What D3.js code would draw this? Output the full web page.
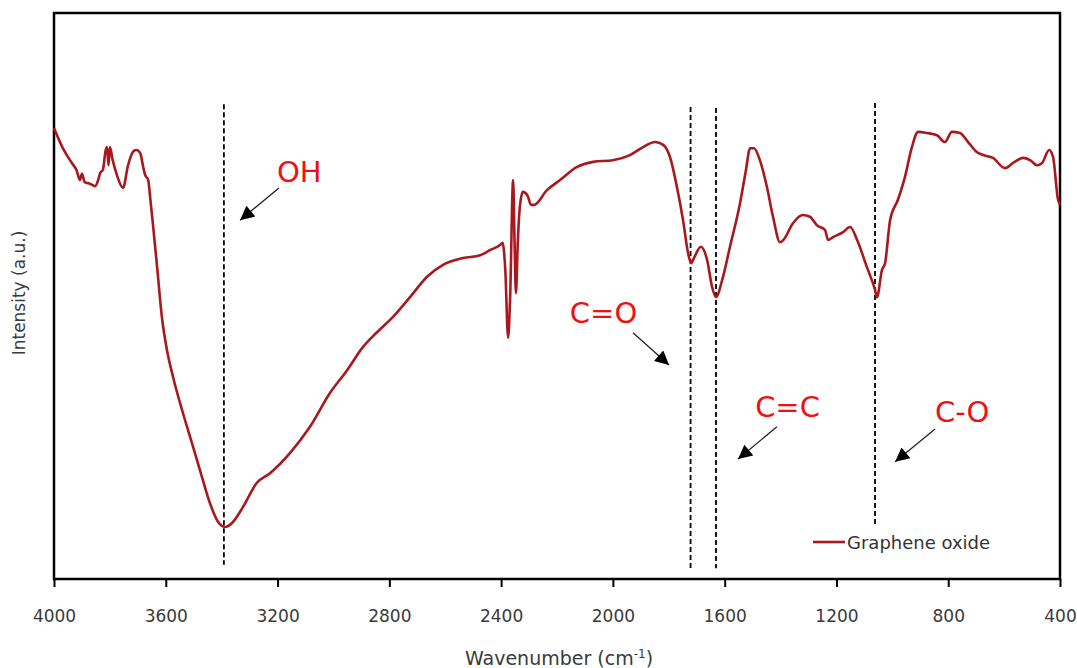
<!DOCTYPE html>
<html>
<head>
<meta charset="utf-8">
<script src="https://cdn.jsdelivr.net/npm/d3@7"></script>
<style>
  body { margin: 0; background: #fff; }
  svg { display: block; }
  text { font-family: "DejaVu Sans", Verdana, sans-serif; }
</style>
</head>
<body>
<svg id="chart" width="1077" height="668"></svg>
<script>
// ---------------------------------------------------------------
// Data (wavenumber, intensity a.u.)

const wavenumber = [
  4000, 3965, 3936, 3920, 3907, 3900, 3890, 3870, 3853, 3840,
  3835, 3825, 3815, 3810, 3805, 3800, 3790, 3775, 3753, 3735,
  3715, 3705, 3692, 3680, 3674, 3663, 3655, 3645, 3631, 3614,
  3596, 3574, 3542, 3513, 3478, 3442, 3413, 3388, 3363, 3324,
  3274, 3227, 3155, 3084, 3012, 2951, 2894, 2844, 2787, 2726,
  2665, 2608, 2536, 2475, 2440, 2404, 2395, 2385, 2375, 2368,
  2357, 2352, 2347, 2340, 2333, 2322, 2305, 2293, 2282, 2236,
  2189, 2128, 2071, 2000, 1939, 1892, 1849, 1820, 1796, 1771,
  1749, 1731, 1720, 1710, 1685, 1663, 1645, 1631, 1609, 1581,
  1545, 1525, 1509, 1495, 1474, 1449, 1427, 1402, 1390, 1355,
  1320, 1295, 1270, 1241, 1230, 1212, 1176, 1151, 1126, 1091,
  1062, 1055, 1037, 1026, 1008, 980, 955, 930, 908, 876,
  840, 812, 787, 758, 729, 697, 675, 640, 597, 568,
  532, 507, 482, 464, 439, 425, 407, 400
];

const intensity = [
  79.7, 75.8, 73.5, 72.3, 70.5, 71.6, 70.1, 69.8, 69.4, 70.8,
  71.7, 72.3, 75.8, 76.3, 73.1, 76.3, 74.0, 71.4, 69.1, 73.1,
  75.6, 75.8, 75.3, 72.6, 71.4, 70.5, 67.0, 62.2, 55.1, 46.3,
  40.5, 35.7, 29.9, 25.1, 19.3, 13.4, 10.1, 9.2, 9.9, 12.7,
  17.0, 18.7, 22.3, 26.9, 32.9, 36.9, 41.0, 43.6, 46.3, 49.8,
  53.4, 55.5, 56.7, 57.2, 58.1, 59.0, 59.4, 54.6, 42.6, 49.3,
  70.5, 59.9, 50.5, 59.9, 65.7, 68.4, 67.7, 66.1, 66.1, 68.7,
  70.5, 72.8, 73.7, 74.0, 74.9, 76.3, 77.2, 76.7, 74.6, 69.3,
  63.4, 57.6, 55.8, 56.7, 58.7, 56.4, 51.6, 49.8, 52.8, 58.7,
  66.4, 71.9, 76.1, 76.1, 74.0, 69.3, 64.0, 59.5, 59.9, 62.9,
  64.3, 64.0, 62.5, 61.7, 59.9, 60.4, 61.3, 62.2, 59.9, 55.1,
  51.1, 49.8, 54.6, 55.8, 63.4, 67.0, 71.0, 76.3, 79.0, 78.8,
  78.4, 77.2, 79.0, 78.8, 77.2, 75.4, 74.9, 74.4, 72.6, 73.5,
  74.4, 74.0, 73.1, 73.5, 75.8, 74.6, 67.0, 66.1
];

const xTicks = [4000, 3600, 3200, 2800, 2400, 2000, 1600, 1200, 800, 400];

// band markers: dashed lines at the peak positions
const bandNames = ["OH", "C=O", "C=C", "C-O"];
const bandPeak = [3392, 1722, 1631, 1062];
const bandTop = [83.9, 83.4, 83.2, 84.1];
const bandBottom = [2.5, 1.9, 1.9, 9.4];

// label text anchor and arrow (from -> tip), in data units
const labelW = [3202, 2154, 1491, 847];
const labelV = [70.1, 45.2, 28.6, 27.7];
const arrowFromW = [3195, 1928, 1413, 847];
const arrowFromV = [69.1, 43.5, 26.9, 26.5];
const arrowToW = [3334, 1799, 1552, 990];
const arrowToV = [63.4, 37.8, 21.2, 20.7];

const seriesName = "Graphene oxide";

// ---------------------------------------------------------------
// Layout

const margin = { top: 13, right: 17, bottom: 89, left: 54 };
const svg = d3.select("#chart");
const W = +svg.attr("width"), H = +svg.attr("height");
const innerW = W - margin.left - margin.right;
const innerH = H - margin.top - margin.bottom;

const x = d3.scaleLinear().domain([4000, 400]).range([0, innerW]);
const y = d3.scaleLinear().domain([0, 100]).range([innerH, 0]);

const g = svg.append("g")
  .attr("transform", "translate(" + margin.left + "," + margin.top + ")");

// x axis with ticks pointing outward
const xAxis = g.append("g")
  .attr("transform", "translate(0," + innerH + ")")
  .call(d3.axisBottom(x).tickValues(xTicks).tickSize(8).tickPadding(23).tickFormat(d3.format("d")));
xAxis.select(".domain").remove();
xAxis.selectAll(".tick line").attr("stroke", "#000").attr("stroke-width", 2);
xAxis.selectAll(".tick text")
  .attr("fill", "#3a3a3a")
  .style("font-size", "17px");

// frame
g.append("rect")
  .attr("x", 0).attr("y", 0)
  .attr("width", innerW).attr("height", innerH)
  .attr("fill", "none")
  .attr("stroke", "#000")
  .attr("stroke-width", 2.5);

// dashed band lines
const bands = bandPeak.map((p, i) => ({ name: bandNames[i], w: p, top: bandTop[i], bottom: bandBottom[i] }));
g.append("g").selectAll("line")
  .data(bands)
  .enter().append("line")
    .attr("x1", d => x(d.w)).attr("x2", d => x(d.w))
    .attr("y1", d => y(d.top)).attr("y2", d => y(d.bottom))
    .attr("stroke", "#000")
    .attr("stroke-width", 1.8)
    .attr("stroke-dasharray", "5,3");

// spectrum
const spectrum = wavenumber.map((w, i) => ({ w: w, v: intensity[i] }));
const line = d3.line()
  .x(d => x(d.w))
  .y(d => y(d.v))
  .curve(d3.curveMonotoneX);

g.append("path")
  .datum(spectrum)
  .attr("d", line)
  .attr("fill", "none")
  .attr("stroke", "#a8181c")
  .attr("stroke-width", 2.6)
  .attr("stroke-linejoin", "round");

// arrow marker
svg.append("defs").append("marker")
  .attr("id", "arrowhead")
  .attr("viewBox", "0 0 10 10")
  .attr("refX", 10).attr("refY", 5)
  .attr("markerUnits", "userSpaceOnUse")
  .attr("markerWidth", 17).attr("markerHeight", 14)
  .attr("orient", "auto")
  .append("path")
    .attr("d", "M0,0 L10,5 L0,10 Z")
    .attr("fill", "#000");

const notes = bandNames.map((n, i) => ({
  name: n,
  tw: labelW[i], tv: labelV[i],
  fw: arrowFromW[i], fv: arrowFromV[i],
  aw: arrowToW[i], av: arrowToV[i]
}));

g.append("g").selectAll("line")
  .data(notes)
  .enter().append("line")
    .attr("x1", d => x(d.fw)).attr("y1", d => y(d.fv))
    .attr("x2", d => x(d.aw)).attr("y2", d => y(d.av))
    .attr("stroke", "#222")
    .attr("stroke-width", 1.3)
    .attr("marker-end", "url(#arrowhead)");

g.append("g").selectAll("text")
  .data(notes)
  .enter().append("text")
    .attr("x", d => x(d.tw)).attr("y", d => y(d.tv))
    .attr("fill", "#ee1111")
    .style("font-size", "29px")
    .text(d => d.name);

// legend
const legend = g.append("g")
  .attr("transform", "translate(" + (innerW - 247) + "," + (innerH - 37) + ")");
legend.append("line")
  .attr("x1", 0).attr("x2", 32)
  .attr("y1", 0).attr("y2", 0)
  .attr("stroke", "#a8181c")
  .attr("stroke-width", 2.6);
legend.append("text")
  .attr("x", 34).attr("y", 7)
  .attr("fill", "#333")
  .style("font-size", "18px")
  .text(seriesName);

// axis titles
const xTitle = svg.append("text")
  .attr("x", 559)
  .attr("y", 665)
  .attr("text-anchor", "middle")
  .attr("fill", "#3a3a3a")
  .style("font-size", "19px");
xTitle.append("tspan").text("Wavenumber (cm");
xTitle.append("tspan").attr("dy", -7).style("font-size", "12px").text("-1");
xTitle.append("tspan").attr("dy", 7).text(")");

svg.append("text")
  .attr("transform", "translate(25," + 293 + ") rotate(-90)")
  .attr("text-anchor", "middle")
  .attr("fill", "#3a3a3a")
  .style("font-size", "17px")
  .text("Intensity (a.u.)");
</script>
</body>
</html>
